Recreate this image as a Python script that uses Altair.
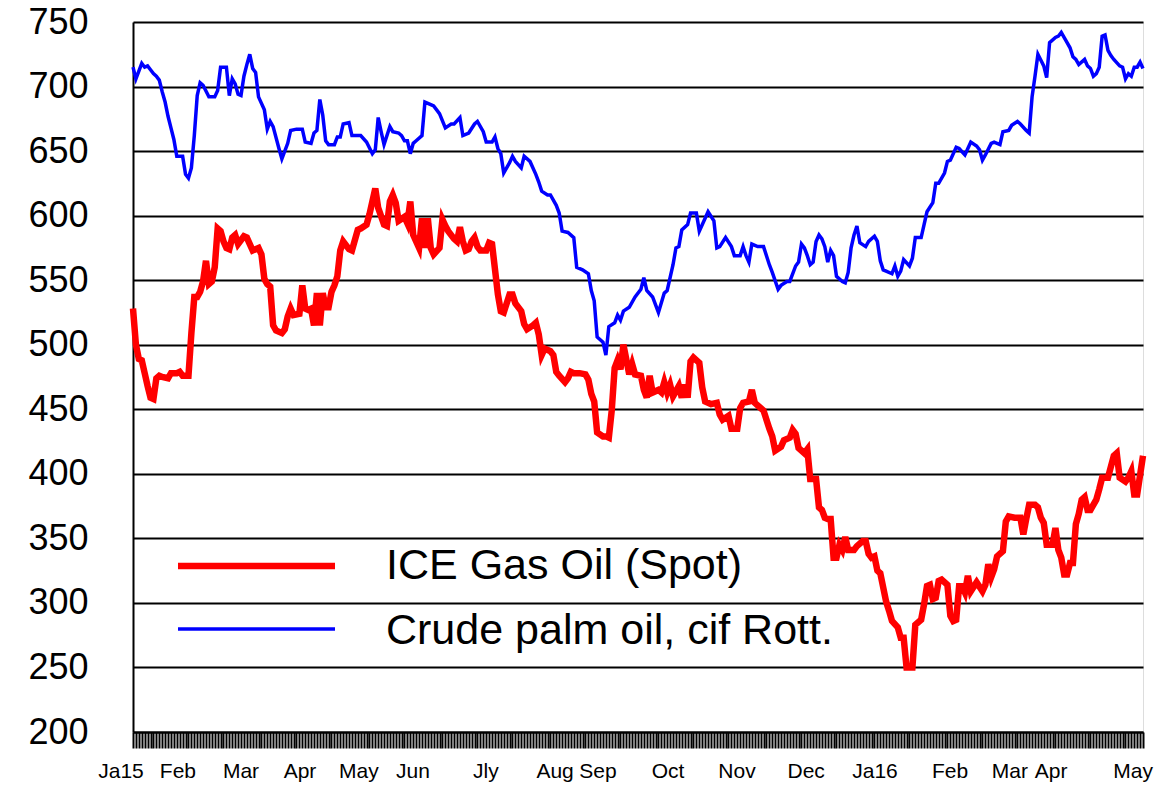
import altair as alt
import pandas as pd

# ---- data (x = trading-day index, Jan 2015 .. May 2016) ----
n_days = 347

red_day = [0, 1, 2, 3, 4, 5, 6, 7, 8, 9, 10, 12, 13, 15, 16, 17, 19, 20, 21, 22, 23, 24, 25, 26, 27, 28, 29, 30,
           31, 32, 33, 34, 35, 36, 38, 39, 41, 42, 43, 44, 45, 46, 47, 48, 49, 51, 52, 53, 54, 55, 57, 58, 59, 60,
           61, 62, 63, 64, 65, 66, 67, 68, 69, 70, 71, 72, 74, 75, 77, 78, 80, 81, 82, 83, 84, 86, 87, 88, 89, 90,
           91, 93, 94, 95, 96, 97, 98, 99, 100, 101, 102, 103, 105, 106, 107, 108, 110, 111, 112, 113, 114, 115,
           116, 117, 118, 119, 121, 122, 123, 125, 126, 127, 129, 130, 131, 133, 134, 135, 137, 138, 139, 140, 141,
           143, 144, 145, 146, 148, 149, 150, 151, 153, 155, 156, 157, 158, 159, 161, 162, 163, 164, 165, 166, 167,
           168, 170, 171, 172, 174, 175, 176, 177, 178, 180, 181, 182, 183, 184, 185, 187, 188, 189, 190, 191, 192,
           194, 195, 196, 198, 200, 201, 202, 204, 205, 207, 208, 209, 211, 212, 213, 215, 216, 218, 219, 220, 222,
           223, 225, 226, 227, 228, 230, 231, 232, 234, 235, 236, 237, 238, 239, 240, 241, 242, 243, 244, 245, 247,
           248, 250, 251, 252, 253, 254, 255, 256, 258, 259, 260, 262, 263, 264, 265, 266, 267, 268, 270, 271, 272,
           273, 274, 275, 276, 277, 279, 280, 281, 282, 283, 284, 285, 286, 287, 289, 291, 292, 293, 294, 295, 296,
           298, 299, 300, 302, 304, 305, 306, 307, 309, 310, 311, 312, 313, 315, 316, 317, 318, 319, 320, 321, 322,
           323, 324, 325, 326, 327, 328, 330, 331, 332, 334, 336, 337, 338, 340, 341, 342, 343, 344, 346]
red_val = [528, 500, 489, 488, 478, 468, 459, 458, 474, 476, 475, 474, 478, 478, 479, 476, 476, 509, 537, 537, 541,
           549, 565, 547, 549, 560, 590, 588, 580, 575, 574, 583, 585, 578, 584, 583, 573, 574, 575, 570, 551, 547,
           545, 515, 511, 509, 512, 522, 528, 523, 524, 546, 528, 527, 528, 515, 540, 515, 540, 529, 529, 541, 546,
           553, 573, 580, 574, 573, 589, 590, 593, 601, 611, 621, 606, 593, 592, 611, 616, 610, 596, 599, 594, 611,
           585, 580, 575, 598, 575, 598, 575, 570, 575, 597, 592, 588, 582, 580, 591, 580, 573, 574,
           580, 583, 576, 573, 573, 579, 578, 539, 526, 525, 539, 539, 532, 526, 516, 512, 515, 517, 508, 492, 497,
           495, 492, 479, 476, 471, 474, 479, 478, 478, 477, 473, 462, 456, 432, 429, 429, 428, 449, 482, 488, 481,
           500, 477, 485, 477, 476, 465, 459, 476, 463, 465, 463, 471, 463, 469, 460, 468, 459, 469, 459, 487, 490,
           486, 467, 456, 454, 455, 446, 442, 445, 435, 435, 451, 455, 456, 465, 455, 451, 449, 435, 429, 418, 421,
           426, 428, 434, 431, 420, 416, 419, 396, 396, 374, 372, 366, 365, 365, 335, 335, 345, 341, 351, 341, 341,
           344, 348, 348, 338, 335, 336, 325, 323, 301, 294, 286, 281, 273, 273, 250, 250, 250, 283, 287, 299, 313,
           314, 303, 304, 317, 318, 314, 290, 286, 287, 313, 313, 308, 321, 309, 316, 309, 314, 330, 320, 326, 336,
           340, 363, 367, 366, 366, 353, 365, 376, 376, 374, 366, 362, 345, 345, 358, 341, 335, 322, 322, 331, 331,
           361, 369, 380, 382, 372, 372, 380, 388, 397, 397, 414, 416, 397, 394, 397, 402, 384, 384, 414]

blue_day = [0, 1, 2, 3, 4, 5, 6, 7, 8, 9, 10, 11, 12, 13, 14, 15, 17, 18, 19, 20, 21, 22, 23, 24, 26, 28, 29, 30,
            32, 33, 34, 35, 36, 37, 38, 39, 40, 41, 42, 43, 45, 46, 47, 48, 50, 51, 53, 54, 56, 58, 59, 61, 62, 63,
            64, 65, 66, 67, 69, 70, 71, 72, 74, 75, 78, 80, 82, 83, 84, 85, 86, 88, 89, 91, 92, 93, 94, 95, 96, 97,
            99, 100, 102, 103, 105, 107, 109, 110, 112,
            113, 115, 117, 118, 120, 121, 123, 124, 125, 126, 127, 129, 130, 131, 133, 134, 136, 138, 139, 140, 142,
            143, 145, 146, 147, 149, 151, 152, 154, 156, 157, 158, 159, 161, 162, 163, 165, 166, 167, 168, 170, 172,
            174, 175, 176, 178, 180, 182, 183, 185, 186, 187, 188, 190, 191, 193, 194, 196, 197, 199, 200, 201, 203,
            205, 206, 208, 209, 210, 211, 212, 214, 216, 218, 219, 221, 222, 224, 225,
            227, 228, 229, 230, 231, 232, 233, 234, 235, 236, 237, 238, 239, 240, 241, 243, 244, 245, 246, 247, 248,
            249, 251, 252, 254, 255, 256, 257, 258, 260, 261, 262, 263, 264, 266, 267, 268, 270, 271, 272, 274, 275,
            276, 278, 279, 280, 282, 283, 285, 286, 287, 289, 290, 291, 292, 294, 295, 297, 298, 300, 301, 303, 304,
            306, 307, 308, 309, 310, 312, 313, 314, 316, 317, 318, 320, 321, 322, 323, 324, 326, 327, 328, 329, 330,
            331, 332, 333, 334, 335, 336, 338, 339, 340, 341, 342, 343, 344, 345, 346]
blue_val = [715, 706, 712, 718, 715, 716, 713, 710, 708, 705, 696, 688, 677, 668, 659, 646, 646, 632, 629, 637, 662,
            693, 703, 701, 692, 692, 697, 715, 715, 693, 706, 702, 694, 693, 708, 717, 725, 714, 711, 692, 682, 667,
            673, 669, 652, 644, 656, 666, 667, 667, 657, 656, 664, 666, 690, 678, 658, 655, 655, 661, 661, 671, 672,
            662, 662, 657, 648, 651, 676, 665, 655, 669, 665, 664, 662, 658, 658, 648, 656, 658, 662, 688, 686, 685,
            679, 668, 671, 671, 676,
            662, 664, 671, 673, 665, 657, 657, 661, 652, 648, 633, 641, 646, 642, 637, 646, 642, 632, 626, 619, 616,
            616, 608, 602, 588, 587, 583, 560, 558, 555, 542, 534, 506, 502, 492, 514, 517, 523, 519, 526, 529, 537,
            543, 552, 542, 537, 525, 540, 542, 562, 575, 576, 589, 593, 602, 602, 588, 598, 603, 596, 575, 576, 583,
            576, 569, 569, 576, 569, 564, 578, 576, 576, 562, 556, 543, 546, 549, 549,
            561, 564, 578, 575, 569, 562, 564, 580, 585, 582, 576, 564, 573, 569, 553, 549, 548, 556, 575, 585, 592,
            579, 576, 580, 584, 580, 565, 558, 557, 555, 561, 553, 557, 566, 561, 567, 583, 583, 593, 603, 610, 625,
            625, 633, 642, 643, 653, 652, 647, 652, 657, 654, 651, 643, 647, 656, 657, 655, 665, 666, 670, 673, 671,
            666, 664, 692, 708, 725, 716, 707, 734, 738, 739, 742, 734, 730, 723, 721, 717, 721, 716, 714, 708,
            710, 715, 739, 740, 728, 724, 721, 716, 715, 706, 710, 708, 715, 715, 719, 714]

series_names = ["ICE Gas Oil (Spot)", "Crude palm oil, cif Rott."]
series_colors = ["#ff0000", "#0000ff"]
series_widths = [6.5, 3.5]

month_labels = ["Ja15", "Feb", "Mar", "Apr", "May", "Jun", "Jly", "Aug", "Sep", "Oct", "Nov", "Dec",
                "Ja16", "Feb", "Mar", "Apr", "May"]
month_pos = [-4.1, 15.4, 37.0, 57.2, 77.4, 95.9, 120.9, 144.6, 159.3, 183.3, 206.9, 230.6,
             254.2, 279.9, 300.4, 314.5, 342.6]

y_ticks = list(range(200, 751, 50))

# ---- build tables ----
red_df = pd.DataFrame({"day": red_day, "value": red_val})
blue_df = pd.DataFrame({"day": blue_day, "value": blue_val})
month_df = pd.DataFrame({"pos": month_pos, "label": month_labels})

FONT = "Liberation Sans"
W, H = 1010, 710

x_scale = alt.Scale(domain=[0, n_days - 1], nice=False, zero=False)
y_scale = alt.Scale(domain=[200, 750], nice=False, zero=False)

x_axis = alt.Axis(values=list(range(n_days)), labels=False, tickSize=16, tickWidth=2,
                  tickColor="black", tickOpacity=1, domainColor="black", domainWidth=2,
                  grid=False, title=None)
y_axis = alt.Axis(values=y_ticks, grid=True, gridColor="black", gridWidth=2, gridOpacity=1,
                  ticks=False, domainColor="black", domainWidth=2, labelFontSize=36, labelFont=FONT,
                  labelColor="black", labelPadding=45, title=None)

blue_line = alt.Chart(blue_df).mark_line(color=series_colors[1], strokeWidth=series_widths[1]).encode(
    x=alt.X("day:Q", scale=x_scale, axis=x_axis),
    y=alt.Y("value:Q", scale=y_scale, axis=y_axis),
)
red_line = alt.Chart(red_df).mark_line(color=series_colors[0], strokeWidth=series_widths[0]).encode(
    x=alt.X("day:Q", scale=x_scale, axis=x_axis),
    y=alt.Y("value:Q", scale=y_scale, axis=y_axis),
)

months = alt.Chart(month_df).mark_text(font=FONT, fontSize=21, color="black", baseline="middle").encode(
    x=alt.X("pos:Q", scale=x_scale, axis=x_axis),
    y=alt.value(H + 40),
    text="label:N",
)

legend_layers = []
for i, (name, col, sw) in enumerate(zip(series_names, series_colors, series_widths)):
    ldf = pd.DataFrame({"name": [name]})
    yy = 544 + i * 63
    legend_layers.append(
        alt.Chart(ldf).mark_rule(color=col, strokeWidth=sw).encode(
            x=alt.value(45), x2=alt.value(202), y=alt.value(yy))
    )
    legend_layers.append(
        alt.Chart(ldf).mark_text(font=FONT, fontSize=43, color="black", align="left",
                                 baseline="middle").encode(
            x=alt.value(253), y=alt.value(yy + i * 2), text="name:N")
    )

chart = alt.layer(blue_line, red_line, months, *legend_layers).properties(
    width=W, height=H,
    autosize=alt.AutoSizeParams(type="none"),
    padding={"left": 125, "top": 14, "right": 23, "bottom": 52},
).configure_view(stroke=None).configure(background="white")

chart.save("out.html", embed_options={"renderer": "svg", "actions": False})
